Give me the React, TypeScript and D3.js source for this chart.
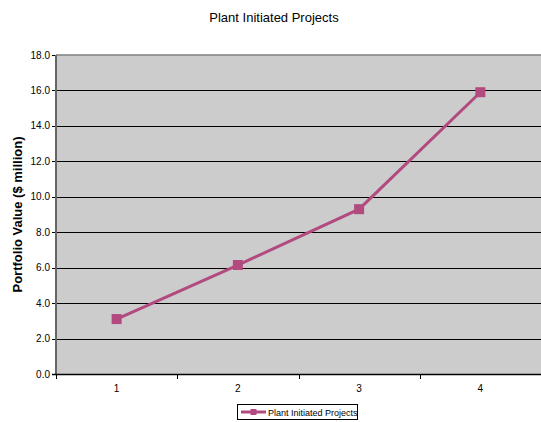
import React from "react";
import * as d3 from "d3";

const categories = ["1", "2", "3", "4"];
const values = [3.1, 6.15, 9.3, 15.9];
const yTicks = [0, 2, 4, 6, 8, 10, 12, 14, 16, 18];
const seriesName = "Plant Initiated Projects";
const chartTitle = "Plant Initiated Projects";
const yTitle = "Portfolio Value ($ million)";

const W = 541;
const H = 422;
const plot = { left: 56, right: 541, top: 55, bottom: 374 };
const lineColor = "#b24a80";
const font = "Liberation Sans, Arial, sans-serif";

export default function App() {
  const x = d3
    .scaleBand<string>()
    .domain(categories)
    .range([plot.left, plot.right])
    .padding(0);
  const y = d3.scaleLinear().domain([0, 18]).range([plot.bottom, plot.top]);

  const pts: [number, number][] = values.map((v, i) => [
    (x(categories[i]) ?? 0) + x.bandwidth() / 2,
    y(v),
  ]);
  const line = d3.line()(pts) ?? "";

  const bandEdges = categories.map((c) => x(c) ?? 0).concat([plot.right]);

  return (
    <svg
      width={W}
      height={H}
      style={{ position: "absolute", left: 0, top: 0, display: "block" }}
      fontFamily={font}
    >
      <rect x={0} y={0} width={W} height={H} fill="#ffffff" />
      <text x={274} y={22} textAnchor="middle" fontSize={13} fill="#000">
        {chartTitle}
      </text>

      {/* plot area */}
      <rect
        x={plot.left}
        y={plot.top}
        width={plot.right - plot.left}
        height={plot.bottom - plot.top}
        fill="#cccccc"
      />
      <line
        x1={plot.left}
        x2={plot.right}
        y1={plot.top}
        y2={plot.top}
        stroke="#808080"
        strokeWidth={1.5}
      />

      {/* horizontal gridlines and y ticks */}
      {yTicks.map((t) => (
        <g key={t}>
          {t > 0 && t < 18 && (
            <line
              x1={plot.left}
              x2={plot.right}
              y1={Math.round(y(t)) + 0.5}
              y2={Math.round(y(t)) + 0.5}
              stroke="#000"
              strokeWidth={1}
            />
          )}
          <line
            x1={plot.left - 4}
            x2={plot.left}
            y1={Math.round(y(t)) + 0.5}
            y2={Math.round(y(t)) + 0.5}
            stroke="#000"
          />
          <text
            x={plot.left - 6}
            y={y(t) + 3.5}
            textAnchor="end"
            fontSize={10}
            fill="#000"
          >
            {t.toFixed(1)}
          </text>
        </g>
      ))}

      {/* axes */}
      <line
        x1={plot.left}
        x2={plot.left}
        y1={plot.top}
        y2={plot.bottom}
        stroke="#666666"
        strokeWidth={2}
      />
      <line
        x1={plot.left - 4}
        x2={plot.right}
        y1={plot.bottom + 0.5}
        y2={plot.bottom + 0.5}
        stroke="#000"
        strokeWidth={1.5}
      />
      {bandEdges.map((e, i) => (
        <line
          key={i}
          x1={Math.round(e) + 0.5}
          x2={Math.round(e) + 0.5}
          y1={plot.bottom}
          y2={plot.bottom + 5}
          stroke="#000"
        />
      ))}
      {categories.map((c) => (
        <text
          key={c}
          x={(x(c) ?? 0) + x.bandwidth() / 2}
          y={392}
          textAnchor="middle"
          fontSize={10}
          fill="#000"
        >
          {c}
        </text>
      ))}

      <text
        transform={`translate(22,${(plot.top + plot.bottom) / 2}) rotate(-90)`}
        textAnchor="middle"
        fontSize={13}
        fontWeight="bold"
        fill="#000"
      >
        {yTitle}
      </text>

      {/* series */}
      <path d={line} fill="none" stroke={lineColor} strokeWidth={3} />
      {pts.map(([px, py], i) => (
        <rect
          key={i}
          x={px - 5}
          y={py - 5}
          width={10}
          height={10}
          fill={lineColor}
        />
      ))}

      {/* legend */}
      <rect
        x={237.5}
        y={404.5}
        width={120}
        height={15}
        fill="#fff"
        stroke="#000"
        strokeWidth={1}
      />
      <line x1={241} x2={266} y1={412} y2={412} stroke={lineColor} strokeWidth={3} />
      <rect x={250.5} y={409} width={6} height={6} fill={lineColor} />
      <text x={268} y={415.5} fontSize={9} fill="#000">
        {seriesName}
      </text>
    </svg>
  );
}
